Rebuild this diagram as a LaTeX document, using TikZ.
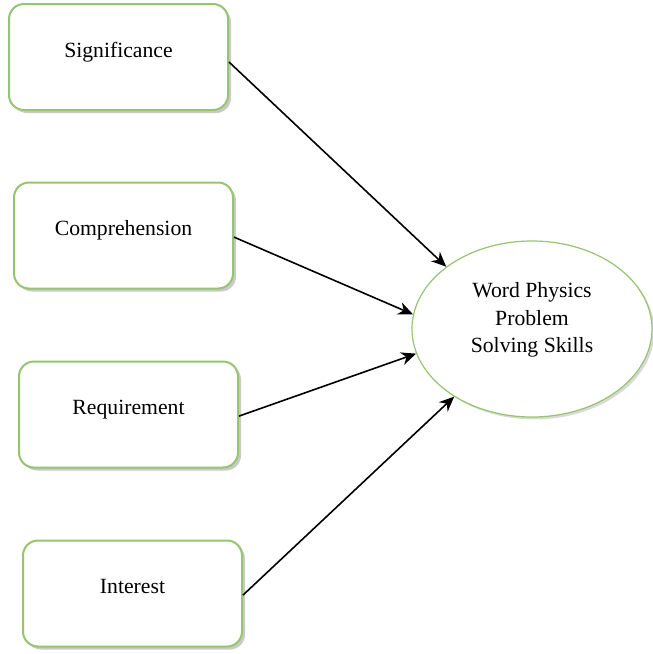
\documentclass[tikz,border=0pt]{standalone}
\usepackage{fontspec}
\setmainfont{Liberation Serif}
\usetikzlibrary{shapes.geometric,shadows,arrows.meta}
\definecolor{boxgreen}{RGB}{150,196,112}
\tikzset{
  factor/.style={draw=boxgreen, line width=1pt, fill=white, rounded corners=7.5pt,
    minimum width=109.5pt, minimum height=53pt, inner sep=0pt,
    text height=6pt, text depth=6pt,
    drop shadow={shadow xshift=1.5pt, shadow yshift=-1.5pt, opacity=0.35, fill=black!60}},
  outcome/.style={ellipse, draw=boxgreen, line width=0.6pt, fill=white,
    minimum width=120pt, minimum height=88pt, inner sep=0pt,
    drop shadow={shadow xshift=1.2pt, shadow yshift=-1.2pt, opacity=0.25, fill=black!60}},
  arr/.style={line width=0.8pt, -{Stealth[length=7.5pt,width=6.5pt]}}
}
\begin{document}
\begin{tikzpicture}[x=0.5pt,y=-0.5pt,font=\fontsize{10.85}{13.75}\selectfont]
\useasboundingbox (0,0) rectangle (653,654);
\node[factor] (sig) at (118.5,57) {Significance};
\node[factor] (comp) at (123.5,235.5) {Comprehension};
\node[factor] (req) at (128.5,414.5) {Requirement};
\node[factor] (int) at (132.5,593.5) {Interest};
\node[outcome] (wp) at (532,329) {\raisebox{2pt}[0pt][0pt]{\begin{tabular}{@{}c@{}}Word Physics\\Problem\\Solving Skills\end{tabular}}};
\draw[arr] ([yshift=-2.5pt]sig.east) -- (wp.144);
\draw[arr] ([yshift=-0.8pt]comp.east) -- (wp.173);
\draw[arr] ([yshift=-0.8pt]req.east) -- (wp.192);
\draw[arr] ([yshift=-0.8pt]int.east) -- (wp.221);
\end{tikzpicture}
\end{document}
